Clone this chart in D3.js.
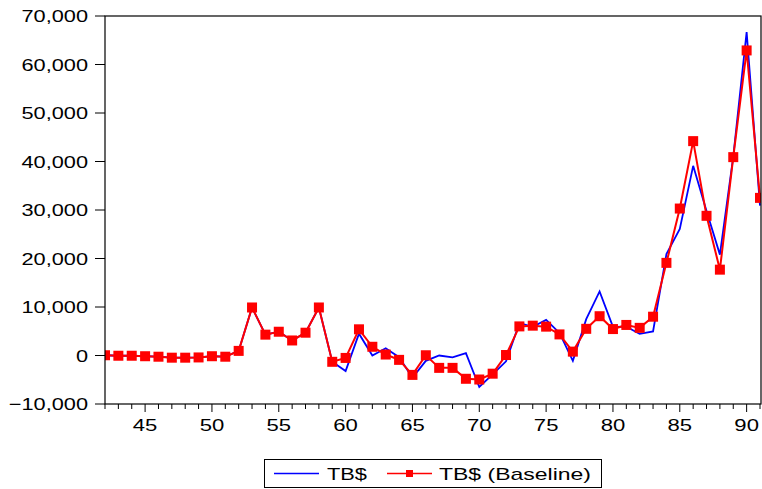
<!DOCTYPE html>
<html>
<head>
<meta charset="utf-8">
<title>TB$</title>
<style>
  body { margin: 0; background: #fff; }
  text { font-family: "Liberation Sans", Arial, sans-serif; fill: #000; }
  .frame { fill: none; stroke: #000; stroke-width: 1.2px; }
</style>
</head>
<body>
<script src="https://cdn.jsdelivr.net/npm/d3@7"></script>
<script>
// years 1942..1991
var years = d3.range(42, 92);

// TB$ (actual)
var tb = [50, -50, -50, -150, -250, -450, -450, -400, -150, -250,
    950, 9900, 4300, 4900, 3100, 4700, 9900, -1300, -3200, 4500,
    0, 1500, -350, -4600, -1100, 0, -400, 500, -6500, -3900,
    -1200, 6700, 5900, 7350, 4650, -1100, 7500, 13200, 5900, 5950,
    4450, 4950, 20900, 26100, 39100, 29800, 20800, 41000, 66700, 30900];

// TB$ (Baseline)
var tbBase = [50, -50, -50, -150, -250, -450, -450, -400, -150, -250,
    950, 9900, 4300, 4900, 3100, 4700, 9900, -1300, -500, 5400,
    1800, 200, -900, -4000, 50, -2550, -2550, -4800, -4950, -3750,
    100, 6000, 6150, 5950, 4350, 800, 5500, 8100, 5450, 6300,
    5700, 8000, 19100, 30300, 44200, 28800, 17700, 40900, 62900, 32500];

var yTicks = [-10000, 0, 10000, 20000, 30000, 40000, 50000, 60000, 70000];
var xTicks = [45, 50, 55, 60, 65, 70, 75, 80, 85, 90];

var W = 762, H = 489;
var pLeft = 105, pRight = 761, pTop = 16, pBottom = 404;

var svg = d3.select("body").append("svg")
    .attr("width", W)
    .attr("height", H);

var x = d3.scaleLinear().domain([42, 91]).range([105, 760]);
var y = d3.scaleLinear().domain([-10000, 70000]).range([pBottom, pTop]);

// y axis ticks + labels (text is stretched wide like the original)
var fmt = d3.format(",");
var yg = svg.append("g");
yg.selectAll("line").data(yTicks).enter().append("line")
    .attr("x1", 95).attr("x2", pLeft)
    .attr("y1", function (d) { return y(d); })
    .attr("y2", function (d) { return y(d); })
    .attr("stroke", "#000");
yg.selectAll("text").data(yTicks).enter().append("text")
    .attr("transform", function (d) {
        return "translate(88," + (y(d) + 6) + ") scale(1.28,1)";
    })
    .attr("text-anchor", "end")
    .style("font-size", "17px")
    .text(function (d) { return fmt(d); });

// x axis ticks: every year (longer every 5), labels every 5
var xg = svg.append("g");
xg.selectAll("line").data(years).enter().append("line")
    .attr("x1", function (d) { return x(d); })
    .attr("x2", function (d) { return x(d); })
    .attr("y1", pBottom)
    .attr("y2", function (d) { return pBottom + (d % 5 === 0 ? 8 : 5); })
    .attr("stroke", "#000");
xg.selectAll("text").data(xTicks).enter().append("text")
    .attr("transform", function (d) {
        return "translate(" + x(d) + "," + (pBottom + 27) + ") scale(1.3,1)";
    })
    .attr("text-anchor", "middle")
    .style("font-size", "17px")
    .text(function (d) { return d; });

// clip to plot box
svg.append("clipPath").attr("id", "plot")
    .append("rect")
    .attr("x", pLeft).attr("y", pTop)
    .attr("width", pRight - pLeft).attr("height", pBottom - pTop);

var plot = svg.append("g").attr("clip-path", "url(#plot)");

var line = d3.line()
    .x(function (d, i) { return x(years[i]); })
    .y(function (d) { return y(d); });

plot.append("path")
    .datum(tb)
    .attr("d", line)
    .attr("fill", "none")
    .attr("stroke", "#0000ff")
    .attr("stroke-width", 1.8);

plot.append("path")
    .datum(tbBase)
    .attr("d", line)
    .attr("fill", "none")
    .attr("stroke", "#ff0000")
    .attr("stroke-width", 2);

var ms = 10;
plot.selectAll("rect.mk").data(tbBase).enter().append("rect")
    .attr("class", "mk")
    .attr("x", function (d, i) { return x(years[i]) - ms / 2; })
    .attr("y", function (d) { return y(d) - ms / 2; })
    .attr("width", ms).attr("height", ms)
    .attr("fill", "#ff0000");

// plot frame
svg.append("rect").attr("class", "frame")
    .attr("x", pLeft).attr("y", pTop)
    .attr("width", pRight - pLeft).attr("height", pBottom - pTop);

// legend
var lg = svg.append("g");
lg.append("rect")
    .attr("x", 264.5).attr("y", 459.5)
    .attr("width", 337).attr("height", 28)
    .attr("fill", "#fff").attr("stroke", "#000").attr("stroke-width", 1);
lg.append("line")
    .attr("x1", 274).attr("x2", 319).attr("y1", 473.5).attr("y2", 473.5)
    .attr("stroke", "#0000ff").attr("stroke-width", 1.5);
lg.append("text")
    .attr("x", 327).attr("y", 480)
    .attr("textLength", 40).attr("lengthAdjust", "spacingAndGlyphs")
    .style("font-size", "17px")
    .text("TB$");
lg.append("line")
    .attr("x1", 387).attr("x2", 432).attr("y1", 473.5).attr("y2", 473.5)
    .attr("stroke", "#ff0000").attr("stroke-width", 1.5);
lg.append("rect")
    .attr("x", 406).attr("y", 470).attr("width", 7).attr("height", 7)
    .attr("fill", "#ff0000");
lg.append("text")
    .attr("x", 439).attr("y", 480)
    .attr("textLength", 152).attr("lengthAdjust", "spacingAndGlyphs")
    .style("font-size", "17px")
    .text("TB$ (Baseline)");
</script>
</body>
</html>
